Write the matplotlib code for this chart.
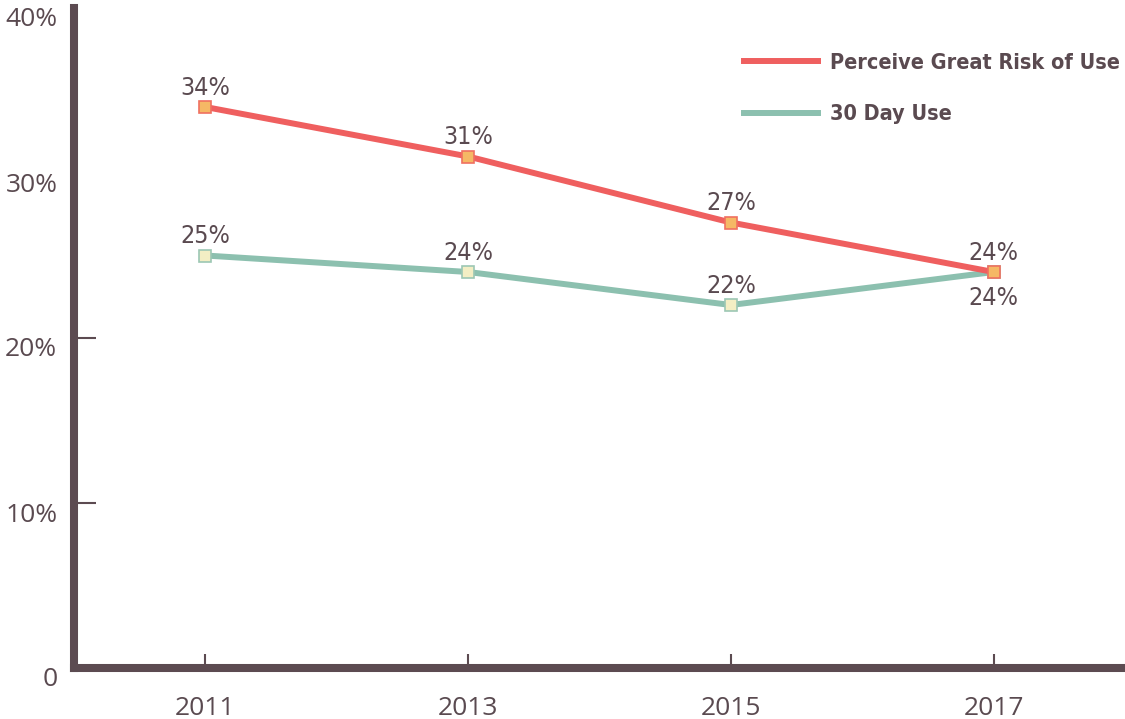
import matplotlib.pyplot as plt
import matplotlib.transforms as mtransforms
from matplotlib import font_manager as fm
from matplotlib.lines import Line2D

# Daten
jahre = ["2011", "2013", "2015", "2017"]
risiko = [34, 31, 27, 24]          # Perceive Great Risk of Use / %
nutzung = [25, 24, 22, 24]         # 30 Day Use / %
y_ticks = [0, 10, 20, 30, 40]
y_labels = ["0", "10%", "20%", "30%", "40%"]
namen = ["Perceive Great Risk of Use", "30 Day Use"]

textfarbe = "#5a4a50"
achsenfarbe = "#5c4b51"
rot = "#ef5f5f"
gruen = "#8cc0af"

plt.rcParams["font.family"] = ["Open Sans", "DejaVu Sans"]


def schmale_schrift(fett):
    # sucht eine Narrow/Condensed-Schrift, sonst Open Sans
    kandidaten = []
    for f in fm.fontManager.ttflist:
        pfad = f.fname.lower()
        if not ("narrow" in pfad or "condensed" in pfad or "cond" in f.name.lower()):
            continue
        if "oblique" in pfad or "italic" in pfad:
            continue
        ist_fett = "bold" in pfad
        if ist_fett != fett:
            continue
        rang = 0 if "liberation" in pfad else 1
        kandidaten.append((rang, f.fname))
    if kandidaten:
        kandidaten.sort()
        return fm.FontProperties(fname=kandidaten[0][1])
    return fm.FontProperties(family="Open Sans", weight="bold" if fett else "normal")


schrift_normal = schmale_schrift(False)
schrift_fett = schmale_schrift(True)

fig = plt.figure(figsize=(11.25, 7.19), dpi=100)
ax = fig.add_axes([74 / 1125, 51 / 719, 1 - 74 / 1125, 660 / 719])

x = list(range(len(jahre)))

ax.plot(x, risiko, '-', color=rot, lw=4.3, marker='s', ms=9,
        mfc="#f5b865", mec="#f07060", mew=1.2, zorder=3)
ax.plot(x, nutzung, '-', color=gruen, lw=4.3, marker='s', ms=9,
        mfc="#f3eec4", mec="#9cc7b4", mew=1.2, zorder=2)

# Datenbeschriftungen
p_label = schrift_normal.copy()
p_label.set_size(18)
for i, v in enumerate(risiko):
    ax.annotate(f"{v}%", (i, v), xytext=(0, 14), textcoords="offset points",
                ha="center", va="center", color=textfarbe, fontproperties=p_label)
for i, v in enumerate(nutzung):
    dy = -19 if i == len(nutzung) - 1 else 14
    ax.annotate(f"{v}%", (i, v), xytext=(0, dy), textcoords="offset points",
                ha="center", va="center", color=textfarbe, fontproperties=p_label)

ax.set_xlim(-0.5, 3.5)
ax.set_ylim(0, 40)

ax.set_xticks(x)
ax.set_xticklabels(jahre)
ax.set_yticks(y_ticks)
ax.set_yticklabels(y_labels)

for s in ["top", "right"]:
    ax.spines[s].set_visible(False)
for s in ["left", "bottom"]:
    ax.spines[s].set_linewidth(5.8)
    ax.spines[s].set_color(achsenfarbe)
    ax.spines[s].set_capstyle("projecting")

ax.tick_params(axis="x", direction="in", length=10, width=1.5,
               color=achsenfarbe, labelcolor=textfarbe, labelsize=19, pad=20)
ax.tick_params(axis="y", direction="in", length=16, width=1.5,
               color=achsenfarbe, labelcolor=textfarbe, labelsize=19, pad=12)

# nur bei 10 % und 20 % Tickstriche
for t, v in zip(ax.yaxis.get_major_ticks(), y_ticks):
    if v not in (10, 20):
        t.tick1line.set_visible(False)

# y-Beschriftungen etwas nach unten versetzt
versatz = mtransforms.ScaledTranslation(0, -9 / 100, fig.dpi_scale_trans)
for lab in ax.get_yticklabels():
    lab.set_transform(lab.get_transform() + versatz)

# Legende: Schriftgroesse so, dass der lange Eintrag ca. 292 px breit ist
p_leg = schrift_fett.copy()
p_leg.set_size(20)
r = fig.canvas.get_renderer()
probe = fig.text(0, 0, namen[0], fontproperties=p_leg)
breite = probe.get_window_extent(r).width
probe.remove()
p_leg.set_size(min(20, 20 * 290 / breite))
fs_px = p_leg.get_size() * 100 / 72

griffe = [Line2D([], [], color=rot, lw=4.3), Line2D([], [], color=gruen, lw=4.3)]
leg = ax.legend(griffe, namen, loc="upper left",
                bbox_to_anchor=(670 / 1051, 0.932),
                frameon=False, handlelength=74 / fs_px, handletextpad=12 / fs_px,
                labelspacing=1.45, borderpad=0, borderaxespad=0, prop=p_leg)
for txt in leg.get_texts():
    txt.set_color(textfarbe)

fig.savefig("out.png", dpi=100)
